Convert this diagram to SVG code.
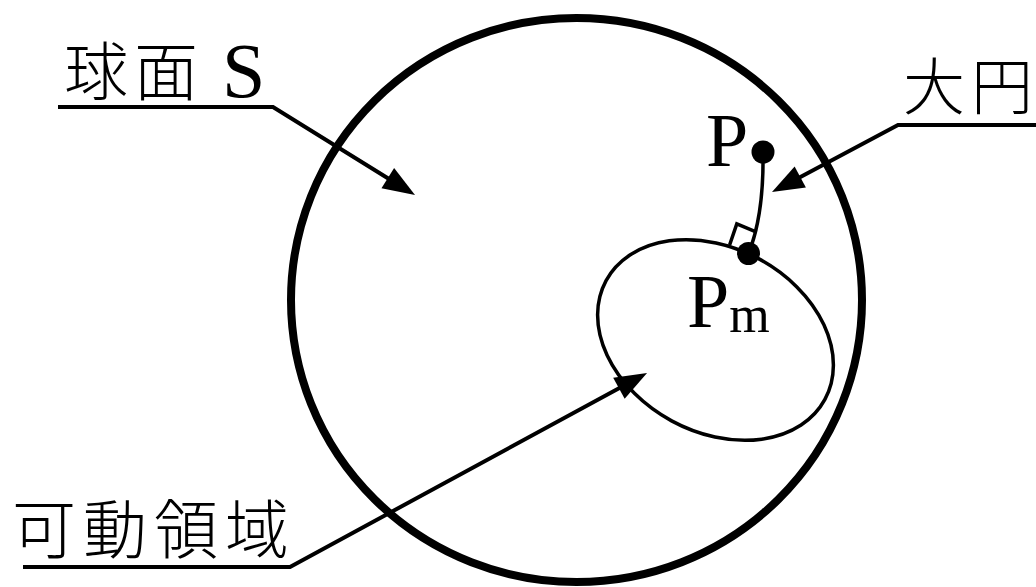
<svg xmlns="http://www.w3.org/2000/svg" width="1036" height="587" viewBox="0 0 1036 587">
<style>
.cjk{font-family:"Noto Sans CJK JP","Noto Sans CJK SC",sans-serif;font-weight:300;fill:#000}
.ser{font-family:"Liberation Serif",serif;fill:#000}
.lead{fill:none;stroke:#000;stroke-width:4;stroke-linejoin:miter}
.thin{fill:none;stroke:#000;stroke-width:3.5}
</style>
<defs>
<marker id="ah" markerUnits="userSpaceOnUse" viewBox="-22 -14 36 28" markerWidth="36" markerHeight="28" refX="0" refY="0" orient="auto">
<path d="M12,0 L-20,-12 L-20,12 Z" fill="#000"/>
</marker>
</defs>
<rect width="1036" height="587" fill="#fff"/>
<g id="sphere">
<ellipse cx="576.5" cy="300" rx="285.5" ry="282" fill="none" stroke="#000" stroke-width="8"/>
</g>
<g id="region">
<ellipse cx="0" cy="0" rx="124.5" ry="92" transform="translate(715.5 340) rotate(28.5)" class="thin"/>
</g>
<g id="great-circle">
<path d="M763,152 Q764,215 748.5,253.5" class="thin"/>
<path d="M729.6,245 L736.8,223.9 L756.6,232.2" class="thin"/>
</g>
<g id="P">
<circle cx="763" cy="152" r="11.5" fill="#000"/>
<text x="706" y="166" class="ser" font-size="76">P</text>
</g>
<g id="Pm">
<circle cx="748.5" cy="253.5" r="11.5" fill="#000"/>
<text x="687" y="327" class="ser" font-size="76">P<tspan font-size="52" y="332">m</tspan></text>
</g>
<g id="label-sphere">
<text x="64" y="95" class="cjk" font-size="64" letter-spacing="6">球面 <tspan class="ser" x="222" y="97" font-size="78" letter-spacing="0">S</tspan></text>
</g>
<g id="label-great">
<text x="903 971" y="110" class="cjk" font-size="62">大円</text>
</g>
<g id="label-region">
<text x="12" y="553" class="cjk" font-size="64" letter-spacing="7">可動領域</text>
</g>
<g id="connectors">
<path d="M58,107 H273 L404.8,188.7" class="lead" marker-end="url(#ah)"/>
<path d="M1036,125 H898 L782.6,186.4" class="lead" marker-end="url(#ah)"/>
<path d="M23,567 H290 L636.5,378.7" class="lead" marker-end="url(#ah)"/>
</g>
</svg>
